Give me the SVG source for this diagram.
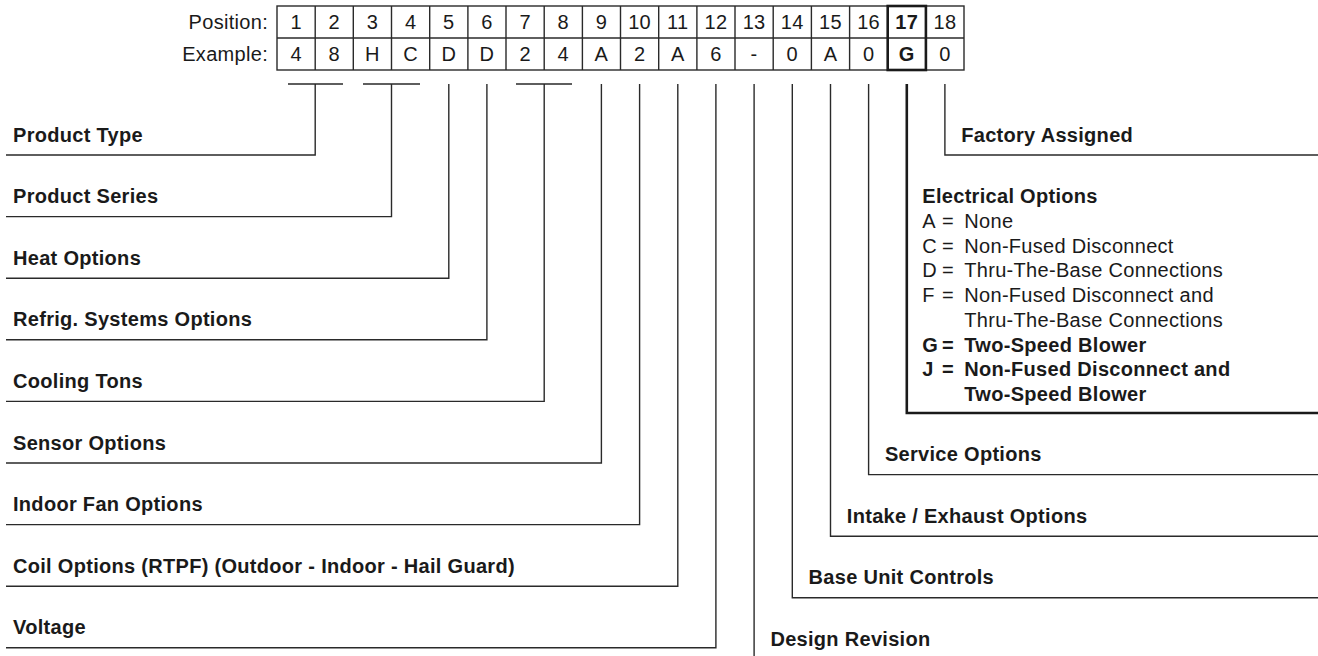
<svg xmlns="http://www.w3.org/2000/svg" width="1318" height="656" viewBox="0 0 1318 656">
<style>
text{font-family:"Liberation Sans",Arial,sans-serif;font-size:20px;fill:#1a1a1a;letter-spacing:0.3px}
.b{font-weight:bold}
.c{text-anchor:middle}
.e{text-anchor:end}
.ln{fill:none;stroke:#2a2a2a;stroke-width:1.4}
.th{fill:none;stroke:#1a1a1a;stroke-width:2.6}
</style>
<rect width="1318" height="656" fill="#fff"/>
<g id="table">
<text class="e" x="268" y="29">Position:</text>
<text class="e" x="268" y="61">Example:</text>
<rect class="ln" x="277" y="6" width="687" height="64"/>
<line class="ln" x1="277" y1="38" x2="964" y2="38"/>
<path class="ln" d="M315.2 6V70M353.3 6V70M391.5 6V70M429.7 6V70M467.9 6V70M506 6V70M544.2 6V70M582.4 6V70M620.5 6V70M658.7 6V70M696.9 6V70M735 6V70M773.2 6V70M811.4 6V70M849.6 6V70M887.7 6V70M925.9 6V70"/>
<rect class="th" x="887.7" y="6" width="38.2" height="64"/>
<g class="c">
<text x="296.1" y="29">1</text><text x="334.3" y="29">2</text><text x="372.4" y="29">3</text><text x="410.6" y="29">4</text><text x="448.8" y="29">5</text><text x="486.9" y="29">6</text><text x="525.1" y="29">7</text><text x="563.3" y="29">8</text><text x="601.4" y="29">9</text><text x="639.6" y="29">10</text><text x="677.8" y="29">11</text><text x="715.9" y="29">12</text><text x="754.1" y="29">13</text><text x="792.3" y="29">14</text><text x="830.5" y="29">15</text><text x="868.6" y="29">16</text><text class="b" x="906.8" y="29">17</text><text x="944.9" y="29">18</text>
<text x="296.1" y="61">4</text><text x="334.3" y="61">8</text><text x="372.4" y="61">H</text><text x="410.6" y="61">C</text><text x="448.8" y="61">D</text><text x="486.9" y="61">D</text><text x="525.1" y="61">2</text><text x="563.3" y="61">4</text><text x="601.4" y="61">A</text><text x="639.6" y="61">2</text><text x="677.8" y="61">A</text><text x="715.9" y="61">6</text><text x="754.1" y="61">-</text><text x="792.3" y="61">0</text><text x="830.5" y="61">A</text><text x="868.6" y="61">0</text><text class="b" x="906.8" y="61">G</text><text x="944.9" y="61">0</text>
</g>
</g>
<g id="connectors">
<path class="ln" d="M288 84H343M315.2 84V155H6"/>
<path class="ln" d="M363 84H420M391.5 84V216.6H6"/>
<path class="ln" d="M448.8 84V278.2H6"/>
<path class="ln" d="M486.9 84V339.8H6"/>
<path class="ln" d="M516 84H572M544.2 84V401.4H6"/>
<path class="ln" d="M601.4 84V463H6"/>
<path class="ln" d="M639.6 84V524.6H6"/>
<path class="ln" d="M677.8 84V586.2H6"/>
<path class="ln" d="M715.9 84V647.8H6"/>
<path class="ln" d="M754.1 84V660"/>
<path class="ln" d="M792.3 84V597.8H1318"/>
<path class="ln" d="M830.5 84V536.2H1318"/>
<path class="ln" d="M868.6 84V474.6H1318"/>
<path class="th" d="M906.8 84V413H1318"/>
<path class="ln" d="M944.9 84V155H1318"/>
</g>
<g id="product-type"><text class="b" x="13" y="141.5">Product Type</text></g>
<g id="product-series"><text class="b" x="13" y="203.1">Product Series</text></g>
<g id="heat-options"><text class="b" x="13" y="264.7">Heat Options</text></g>
<g id="refrig-options"><text class="b" x="13" y="326.3">Refrig. Systems Options</text></g>
<g id="cooling-tons"><text class="b" x="13" y="387.9">Cooling Tons</text></g>
<g id="sensor-options"><text class="b" x="13" y="449.5">Sensor Options</text></g>
<g id="indoor-fan-options"><text class="b" x="13" y="511.1">Indoor Fan Options</text></g>
<g id="coil-options"><text class="b" x="13" y="572.7">Coil Options (RTPF) (Outdoor - Indoor - Hail Guard)</text></g>
<g id="voltage"><text class="b" x="13" y="634.3">Voltage</text></g>
<g id="design-revision"><text class="b" x="770.4" y="645.9">Design Revision</text></g>
<g id="base-unit-controls"><text class="b" x="808.6" y="584.3">Base Unit Controls</text></g>
<g id="intake-exhaust"><text class="b" x="846.8" y="522.7">Intake / Exhaust Options</text></g>
<g id="service-options"><text class="b" x="884.9" y="461.1">Service Options</text></g>
<g id="electrical-options">
<text class="b" x="922.3" y="203.3">Electrical Options</text>
<text x="922.3" y="228">A</text><text x="942" y="228">=</text><text x="964.3" y="228">None</text>
<text x="922.3" y="252.7">C</text><text x="942" y="252.7">=</text><text x="964.3" y="252.7">Non-Fused Disconnect</text>
<text x="922.3" y="277.4">D</text><text x="942" y="277.4">=</text><text x="964.3" y="277.4">Thru-The-Base Connections</text>
<text x="922.3" y="302.1">F</text><text x="942" y="302.1">=</text><text x="964.3" y="302.1">Non-Fused Disconnect and</text>
<text x="964.3" y="326.8">Thru-The-Base Connections</text>
<text class="b" x="922.3" y="351.5">G</text><text class="b" x="942" y="351.5">=</text><text class="b" x="964.3" y="351.5">Two-Speed Blower</text>
<text class="b" x="922.3" y="376.2">J</text><text class="b" x="942" y="376.2">=</text><text class="b" x="964.3" y="376.2">Non-Fused Disconnect and</text>
<text class="b" x="964.3" y="400.9">Two-Speed Blower</text>
</g>
<g id="factory-assigned"><text class="b" x="961.2" y="141.5">Factory Assigned</text></g>
</svg>
